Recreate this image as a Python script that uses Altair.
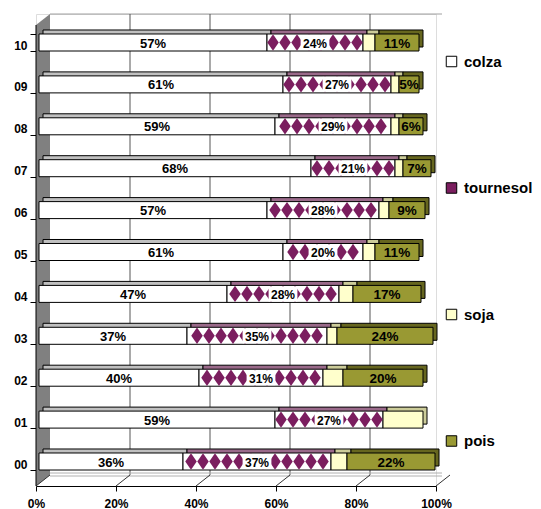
import altair as alt
import pandas as pd

# ---- data ----
years = ["10", "09", "08", "07", "06", "05", "04", "03", "02", "01", "00"]
series = ["colza", "tournesol", "soja", "pois"]
colza = [57, 61, 59, 68, 57, 61, 47, 37, 40, 59, 36]
tournesol = [24, 27, 29, 21, 28, 20, 28, 35, 31, 27, 37]
soja = [3, 2, 2, 2, 2.5, 3, 3.5, 2.5, 5, 10, 4]
pois = [11, 5, 6, 7, 9, 11, 17, 24, 20, 0, 22]
x_ticks = [0, 20, 40, 60, 80, 100]
grid_ticks = [20, 40, 60, 80]

legend_colors = ["#ffffff", "#7b1e5f", "#ffffcc", "#999933"]
top_colors = {"colza": "#c0c0c0", "tournesol": "#9a6a8a", "soja": "#cccc99", "pois": "#66661f"}
labelled = {"colza": 13, "tournesol": 12, "pois": 13.5}
FONT = "Liberation Sans"

rows = []
for i, y in enumerate(years):
    start = 0
    for s, vals in zip(series, [colza, tournesol, soja, pois]):
        v = vals[i]
        if v > 0:
            rows.append(dict(year=y, series=s, value=v, start=start, end=start + v,
                             mid=start + v / 2, top=top_colors[s],
                             label=f"{v:.0f}%" if s in labelled else "",
                             fsize=labelled.get(s, 11)))
        start += v
df = pd.DataFrame(rows)
lab = df[df.label != ""]
tlab = df[df.series == "tournesol"].copy()
tlab["lo"] = tlab["mid"] - 3.6
tlab["hi"] = tlab["mid"] + 3.6

# diamond pattern centres inside the tournesol segments
dia = []
step = 3.0
for i, y in enumerate(years):
    s0, t = colza[i], tournesol[i]
    n = int(t // step)
    off = (t - n * step) / 2
    for k in range(n):
        dia.append(dict(year=y, pos=s0 + off + step * (k + 0.5)))
dia = pd.DataFrame(dia)

xs = alt.Scale(domain=[0, 100], nice=False)
ys = alt.Scale(domain=years, range=[7.55, 468.45], paddingInner=0.594, paddingOuter=0.297)
X_AX = alt.Axis(
    title=None, values=x_ticks, labelExpr="datum.value + '%'", grid=False,
    labelFlush=False, labelOverlap=False,
    domainColor="black", tickColor="black", tickSize=5, labelPadding=7,
    labelFontSize=12, labelFontWeight="bold", labelFont=FONT, labelColor="black")
Y_AX = alt.Axis(
    title=None, domain=False, tickBand="extent", tickOffset=3.5, tickSize=6,
    tickColor="black", labelPadding=3, labelOffset=2.5, labelFontSize=12,
    labelFontWeight="bold", labelFont=FONT, labelColor="black", grid=False)


def X(f):
    return alt.X(f, scale=xs, axis=X_AX)


def Y():
    return alt.Y("year:N", scale=ys, axis=Y_AX, sort=years)


one = alt.Data(values=[{}])
ticks_df = pd.DataFrame({"t": x_ticks})
grid_df = pd.DataFrame({"t": grid_ticks})

# side wall
wall = alt.Chart(one).mark_rule(color="#808080", strokeWidth=14).encode(
    x=alt.value(7), y=alt.value(11), y2=alt.value(461))
wall_top = alt.Chart(one).mark_point(
    shape="M-1,1L1,-0.571L1,1Z", filled=True, color="#808080", opacity=1, size=196,
    strokeWidth=0
).encode(x=alt.value(7), y=alt.value(4))
wall_bot = alt.Chart(one).mark_point(
    shape="M-1,-1L1,-1L-1,0.571Z", filled=True, color="#808080", opacity=1, size=196,
    strokeWidth=0
).encode(x=alt.value(7), y=alt.value(468))

top_line = alt.Chart(one).mark_rule(color="#a0a0a0").encode(
    x=alt.value(14), x2=alt.value(406), y=alt.value(0))
floor1 = alt.Chart(one).mark_rule(color="#b0b0b0").encode(
    x=alt.value(14), x2=alt.value(406), y=alt.value(459))
floor2 = alt.Chart(one).mark_rule(color="#b0b0b0").encode(
    x=alt.value(14), x2=alt.value(406), y=alt.value(462))

grid = alt.Chart(grid_df).mark_rule(color="#555555", xOffset=14).encode(
    x=X("t:Q"), y=alt.value(0), y2=alt.value(461))
diag = alt.Chart(ticks_df).mark_rule(color="#333333", x2Offset=14).encode(
    x=X("t:Q"), x2="t:Q", y=alt.value(472), y2=alt.value(461))
yline = alt.Chart(one).mark_rule(color="black").encode(
    x=alt.value(0), y=alt.value(11), y2=alt.value(472))

shadow = alt.Chart(df).mark_bar(
    stroke="black", strokeWidth=1, xOffset=7, x2Offset=7, yOffset=-4, y2Offset=-4
).encode(
    x=X("start:Q"), x2="end:Q", y=Y(),
    fill=alt.Fill("top:N", scale=None),
)

front = alt.Chart(df).mark_bar(
    stroke="black", strokeWidth=1, xOffset=3, x2Offset=3
).encode(
    x=X("start:Q"), x2="end:Q", y=Y(),
    color=alt.when(alt.datum.series == "tournesol").then(alt.value("#ffffff")).otherwise(
        alt.Color("series:N", scale=alt.Scale(domain=series, range=legend_colors),
                  sort=series,
                  legend=alt.Legend(
                      title=None, orient="none", legendX=408, legendY=40,
                      symbolType="square", symbolSize=110, symbolStrokeColor="black",
                      symbolStrokeWidth=1, symbolOpacity=1, labelFontSize=15,
                      labelFontWeight="bold", labelFont=FONT, labelColor="black",
                      labelLimit=200, rowPadding=110.5, labelOffset=5))),
)

diamonds = alt.Chart(dia).mark_point(
    shape="M0,-1L0.7,0L0,1L-0.7,0Z", filled=True, color="#7b1e5f", opacity=1,
    size=270, xOffset=3, strokeWidth=0
).encode(x=X("pos:Q"), y=Y())

label_box = alt.Chart(tlab).mark_bar(
    color="white", height=15, xOffset=3, x2Offset=3
).encode(x=X("lo:Q"), x2="hi:Q", y=Y())

labels = alt.Chart(lab).mark_text(
    fontWeight="bold", font=FONT, color="black", xOffset=3, dy=1
).encode(
    x=X("mid:Q"), y=Y(),
    text="label:N",
    size=alt.Size("fsize:Q", scale=None),
)

chart = alt.layer(
    wall, wall_top, wall_bot, top_line, grid, floor1, floor2, diag, yline,
    shadow, front, diamonds, label_box, labels
).properties(
    width=400, height=472,
    autosize=alt.AutoSizeParams(type="none"),
    padding={"left": 28, "top": 6, "right": 97, "bottom": 23},
).configure_view(stroke=None).configure(background="white", font=FONT)

chart.save("out.html", embed_options={"renderer": "svg", "actions": False})
